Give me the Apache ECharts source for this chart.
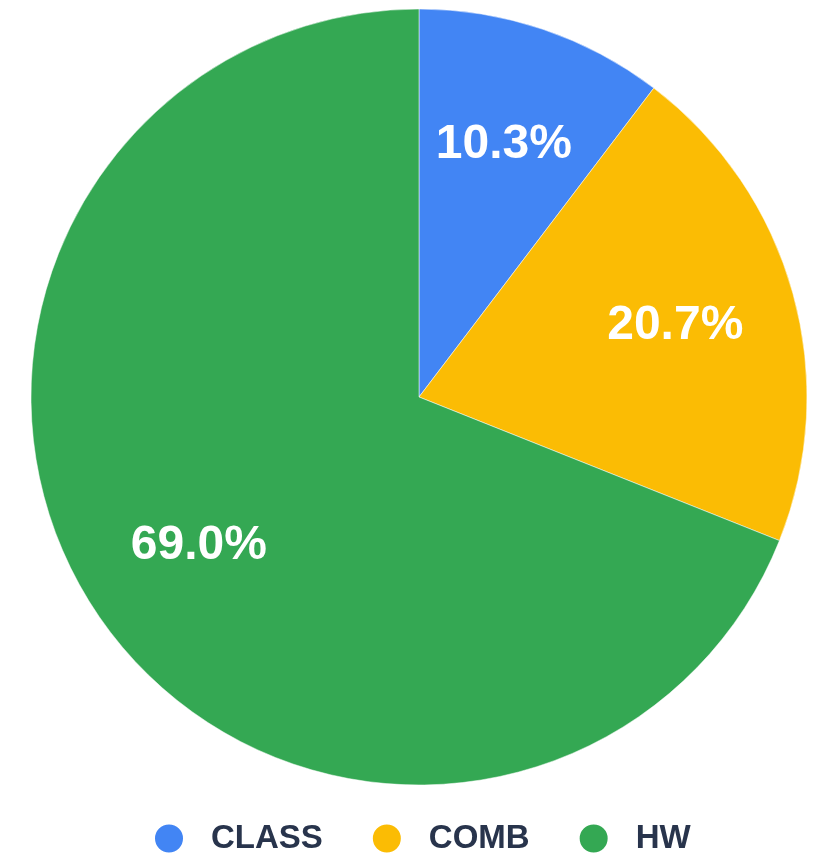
<!DOCTYPE html>
<html>
<head>
<meta charset="utf-8">
<style>
  html, body { margin: 0; padding: 0; background: #ffffff; }
  #chart { width: 813px; height: 853px; }
</style>
<script src="https://cdn.jsdelivr.net/npm/echarts@6/dist/echarts.min.js"></script>
</head>
<body>
<div id="chart"></div>
<script>
// Share of items per category
const categories = ['CLASS', 'COMB', 'HW'];
const counts = [3, 6, 20];
const colors = ['#4285F4', '#FBBC04', '#34A853'];

const center = [419, 397];
const radius = 388;
// labels sit further out than the default half-radius
const labelScale = 1.35;

const chart = echarts.init(document.getElementById('chart'), null, { renderer: 'canvas' });

chart.setOption({
  backgroundColor: '#ffffff',
  animation: false,
  color: colors,
  legend: {
    bottom: -7,
    left: 148,
    icon: 'circle',
    itemWidth: 30,
    itemHeight: 30,
    itemGap: 48,
    formatter: name => '{t|' + name + '}',
    textStyle: {
      rich: {
        t: {
          fontFamily: '"Liberation Sans", Arial, sans-serif',
          fontSize: 33,
          fontWeight: 'bold',
          color: '#28344c',
          padding: [0, 0, 0, 22]
        }
      }
    },
    data: categories
  },
  series: [{
    type: 'pie',
    center: center,
    radius: [0, radius],
    startAngle: 90,
    clockwise: true,
    avoidLabelOverlap: false,
    itemStyle: { borderColor: '#ffffff', borderWidth: 0.5 },
    label: {
      show: true,
      position: 'inside',
      formatter: p => p.percent.toFixed(1) + '%',
      color: '#ffffff',
      fontFamily: '"Liberation Sans", Arial, sans-serif',
      fontWeight: 'bold',
      fontSize: 48
    },
    labelLine: { show: false },
    labelLayout: function (params) {
      const r = params.labelRect;
      const lx = r.x + r.width / 2;
      const ly = r.y + r.height / 2;
      return {
        x: center[0] + (lx - center[0]) * labelScale,
        y: center[1] + (ly - center[1]) * labelScale,
        align: 'center',
        verticalAlign: 'middle'
      };
    },
    emphasis: { disabled: true },
    data: categories.map((name, i) => ({ name: name, value: counts[i] }))
  }]
});
</script>
</body>
</html>
